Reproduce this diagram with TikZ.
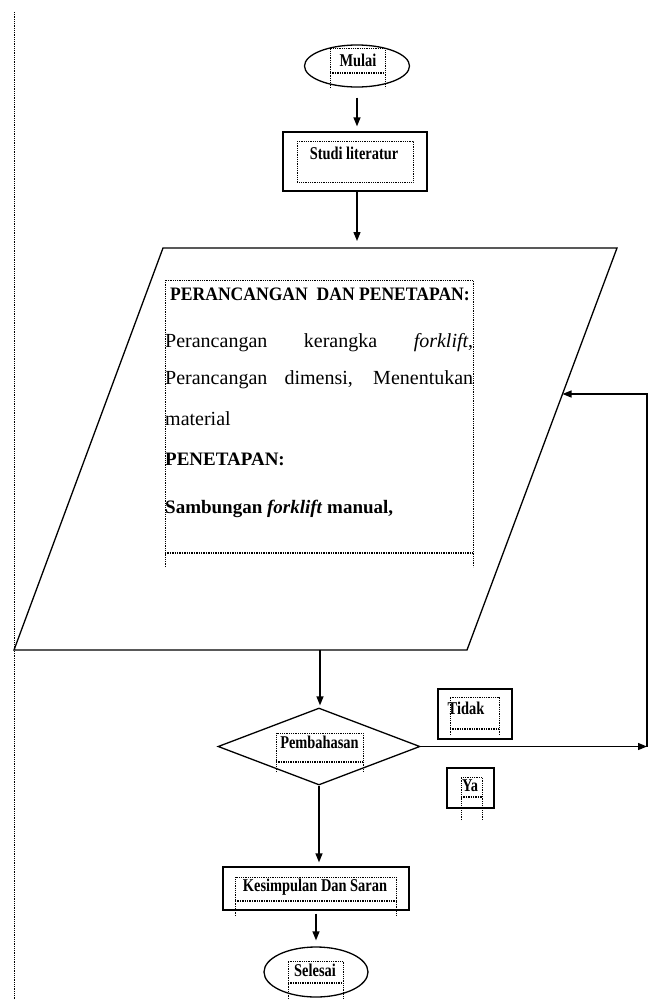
\documentclass[tikz,border=0pt]{standalone}
\usepackage{fontspec}
\usepackage{graphicx}
\setmainfont{Liberation Serif}
\usetikzlibrary{shapes.geometric,arrows.meta}
\newcommand{\cnd}[1]{\scalebox{0.8}[1]{#1}}
\begin{document}
\begin{tikzpicture}[x=1pt,y=-1pt,
  line/.style={line width=1.3pt},
  arr/.style={line width=1.3pt,-{Triangle[length=9pt,width=7pt]}},
  dotbox/.style={densely dotted,line width=0.8pt},
  dotbot/.style={densely dotted,line width=1.4pt},
  lbl/.style={font=\fontsize{18}{20}\selectfont\bfseries, inner sep=0pt},
  body/.style={font=\fontsize{20}{24}\selectfont, inner sep=0pt, anchor=base west},
  bodyb/.style={font=\fontsize{19}{24}\selectfont\bfseries, inner sep=0pt, anchor=base west}]
\useasboundingbox (0,0) rectangle (650,999);

% left page margin dotted line
\coordinate (mtop) at (14,12);
\coordinate (mbot) at (14,999);
\draw[dotbox] (mtop) -- (mbot);

% Mulai
\node[ellipse, draw, line width=1.3pt, minimum width=105pt, minimum height=42pt, inner sep=0pt] (mulai) at (357,66) {};
\node[lbl] (tmulai) at (358,60) {\cnd{Mulai}};
\draw[dotbox] (330,88) -- (330,48) -- (385,48) -- (385,88);
\draw[dotbot] (330,73) -- (385,73);

% Studi literatur
\node[rectangle, draw, line width=1.3pt, minimum width=144pt, minimum height=59pt, inner sep=0pt] (studi) at (355,161.5) {};
\node[lbl] (tstudi) at (354,153) {\cnd{Studi literatur}};
\draw[dotbox] (297,141) rectangle (413,182);

% Parallelogram
\coordinate (pbl) at (14,650);
\coordinate (pbr) at (467,650);
\coordinate (ptr) at (617,248);
\coordinate (ptl) at (163,248);
\draw[line] (pbl) -- (pbr) -- (ptr) -- (ptl) -- cycle;
\coordinate (pin) at (357,248);
\coordinate (pout) at (320,650);
\coordinate (pfb) at (562.5,394);

% text block
\draw[dotbox] (165,567) -- (165,280) -- (473,280) -- (473,567);
\draw[dotbot] (165,553) -- (473,553);
\node[bodyb] (h1) at (170,300) {\scalebox{0.925}[1]{PERANCANGAN\ \ DAN PENETAPAN:}};
\node[body] (l1) at (165,347) {\makebox[308pt][s]{Perancangan kerangka \textit{forklift},}};
\node[body] (l2) at (165,384) {\makebox[308pt][s]{Perancangan dimensi, Menentukan}};
\node[body] (l3) at (165,425) {material};
\node[bodyb] (h2) at (165,465) {PENETAPAN:};
\node[bodyb] (l4) at (165,513) {Sambungan \textit{forklift} manual,};

% Diamond
\node[diamond, draw, line width=1.3pt, minimum width=202pt, minimum height=77pt, inner sep=0pt] (dia) at (319,746.5) {};
\node[lbl] (tdia) at (319.5,742) {\cnd{Pembahasan}};
\draw[dotbox] (276,772) -- (276,733) -- (363,733) -- (363,772);
\draw[dotbot] (276,762) -- (363,762);

% Tidak
\node[rectangle, draw, line width=1.3pt, minimum width=74pt, minimum height=50pt, inner sep=0pt] (tidak) at (475,714) {};
\node[lbl] (ttidak) at (466,708) {\cnd{Tidak}};
\draw[dotbox] (450,735) -- (450,697) -- (499,697) -- (499,735);
\draw[dotbot] (450,729) -- (499,729);

% Ya
\node[rectangle, draw, line width=1.3pt, minimum width=47pt, minimum height=40pt, inner sep=0pt] (ya) at (470.5,788) {};
\node[lbl] (tya) at (470,786) {\cnd{Ya}};
\draw[dotbox] (461,820) -- (461,777) -- (482,777) -- (482,820);
\draw[dotbot] (461,797) -- (482,797);

% Kesimpulan
\node[rectangle, draw, line width=1.3pt, minimum width=186pt, minimum height=43pt, inner sep=0pt] (kes) at (316,888.5) {};
\node[lbl] (tkes) at (315,887) {\cnd{Kesimpulan Dan Saran}};
\draw[dotbox] (235,916) -- (235,877) -- (396,877) -- (396,916);
\draw[dotbot] (235,901) -- (396,901);

% Selesai
\node[ellipse, draw, line width=1.3pt, minimum width=104pt, minimum height=50pt, inner sep=0pt] (sel) at (316,972) {};
\node[lbl] (tsel) at (315,970) {\cnd{Selesai}};
\draw[dotbox] (288,999) -- (288,961) -- (343,961) -- (343,999);
\draw[dotbot] (288,983) -- (343,983);

% connectors
\draw[arr, shorten <=10pt, shorten >=5pt] (mulai.south) -- (mulai.south |- studi.north);
\draw[arr, shorten >=7pt] (studi.south -| pin) -- (pin);
\draw[arr, shorten >=2pt] (pout) -- (pout |- dia.north);
\draw[arr, shorten >=4pt] (dia.south) -- (dia.south |- kes.north);
\draw[arr, shorten <=3pt, shorten >=6pt] (kes.south) -- (kes.south |- sel.north);
\coordinate (fb1) at (647,746.5);
\coordinate (fb2) at (647,394);
\draw[arr] (dia.east) -- (fb1);
\draw[arr] (fb1) -- (fb2) -- (pfb);
\end{tikzpicture}
\end{document}
